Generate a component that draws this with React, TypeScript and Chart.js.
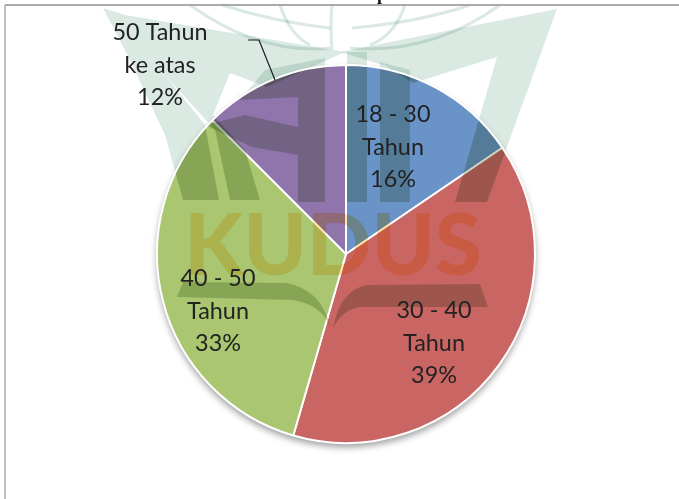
import React, { useEffect, useRef } from "react";
import { Chart, registerables } from "chart.js";

Chart.register(...registerables);

const categories = ["18 - 30 Tahun", "30 - 40 Tahun", "40 - 50 Tahun", "50 Tahun ke atas"];
const shares = [15.5, 39, 33, 12.5];
const percentLabels = ["16%", "39%", "33%", "12%"];
const labelLines = [["18 - 30", "Tahun"], ["30 - 40", "Tahun"], ["40 - 50", "Tahun"], ["50 Tahun", "ke atas"]];
const sliceColors = ["#6a93c8", "#c96663", "#aac670", "#9075ad"];

type Pt = [number, number];
const labelOffsets: Pt[] = [[47, -107], [88, 89], [-128, 57], [-186, -189]];
const LEADER: Pt[] = [[-98, -214], [-87, -214], [-71, -174]];

const wmPolys: Pt[][] = [
  [[103, 8], [125, 15], [165, 75], [205, 125], [219, 200], [183, 200], [165, 135], [130, 60]],
  [[125, 15], [345, 52], [267, 87], [230, 73], [213, 115], [245, 150], [260, 200], [230, 200], [215, 130], [165, 75]],
  [[325, 58], [325, 202], [298, 202], [298, 155], [252, 147], [205, 125], [245, 115], [298, 127], [298, 97], [240, 100], [265, 70]],
  [[347, 52], [367, 52], [367, 202], [347, 202]],
  [[380, 62], [410, 70], [410, 202], [380, 202]],
  [[340, 52], [557, 9], [487, 202], [455, 202], [497, 57], [413, 83], [386, 66]],
];

function drawWatermark(ctx: CanvasRenderingContext2D) {
  for (const poly of wmPolys) {
    ctx.beginPath();
    poly.forEach(([x, y], i) => (i ? ctx.lineTo(x, y) : ctx.moveTo(x, y)));
    ctx.closePath();
    ctx.fill();
  }
  ctx.beginPath();
  ctx.moveTo(177, 297);
  ctx.lineTo(183, 282);
  ctx.lineTo(287, 283);
  ctx.quadraticCurveTo(322, 290, 330, 327);
  ctx.quadraticCurveTo(322, 305, 293, 300);
  ctx.closePath();
  ctx.fill();
  ctx.beginPath();
  ctx.moveTo(333, 328);
  ctx.quadraticCurveTo(340, 290, 367, 285);
  ctx.lineTo(480, 284);
  ctx.lineTo(488, 307);
  ctx.lineTo(360, 307);
  ctx.quadraticCurveTo(342, 310, 333, 328);
  ctx.closePath();
  ctx.fill();
}

function drawGlobe(ctx: CanvasRenderingContext2D) {
  const curves: number[][] = [
    [190, 5, 260, 55, 330, 48],
    [500, 5, 430, 55, 350, 48],
    [280, 5, 290, 35, 310, 45],
    [405, 5, 395, 35, 370, 45],
    [222, 5, 275, 22, 330, 28],
    [470, 5, 420, 22, 352, 28],
    [332, 5, 330, 25, 332, 50],
  ];
  ctx.lineWidth = 3;
  for (const [a, b, c, d, e, f] of curves) {
    ctx.beginPath();
    ctx.moveTo(a, b);
    ctx.quadraticCurveTo(c, d, e, f);
    ctx.stroke();
  }
}

const decorations = {
  id: "decorations",
  beforeDatasetsDraw(chart: any) {
    const { ctx } = chart;
    const arc = chart.getDatasetMeta(0).data[0];
    ctx.save();
    ctx.globalCompositeOperation = "multiply";
    ctx.fillStyle = "#dbe9e3";
    ctx.strokeStyle = "#dbe9e3";
    drawWatermark(ctx);
    drawGlobe(ctx);
    ctx.restore();

    ctx.save();
    ctx.shadowColor = "rgba(0,0,0,0.4)";
    ctx.shadowBlur = 7;
    ctx.shadowOffsetY = 4;
    ctx.fillStyle = "#fff";
    ctx.beginPath();
    ctx.arc(arc.x, arc.y, arc.outerRadius, 0, Math.PI * 2);
    ctx.fill();
    ctx.restore();
  },
  afterDatasetsDraw(chart: any) {
    const { ctx } = chart;
    const arcs = chart.getDatasetMeta(0).data;
    const { x: cx, y: cy, outerRadius: r } = arcs[0];

    ctx.save();
    ctx.beginPath();
    ctx.arc(cx, cy, r - 1, 0, Math.PI * 2);
    ctx.clip();
    ctx.globalCompositeOperation = "multiply";
    ctx.fillStyle = "#c9d6c2";
    drawWatermark(ctx);
    ctx.fillStyle = "#ffe4ae";
    ctx.font = "900 85px Lato";
    ctx.textAlign = "center";
    ctx.textBaseline = "alphabetic";
    ctx.fillText("KUDUS", 333, 275);
    ctx.restore();

    ctx.save();
    ctx.lineWidth = 1.5;
    ctx.strokeStyle = "#8f8f8f";
    ctx.beginPath();
    ctx.moveTo(679, 5);
    ctx.lineTo(5, 5);
    ctx.stroke();
    ctx.strokeStyle = "#aaaaaa";
    ctx.beginPath();
    ctx.moveTo(5, 5);
    ctx.lineTo(5, 499);
    ctx.stroke();
    ctx.fillStyle = "#111";
    ctx.font = "bold 18px 'Liberation Serif'";
    ctx.textAlign = "center";
    ctx.textBaseline = "alphabetic";
    ctx.fillText("p", 382, 0);

    ctx.strokeStyle = "#1a1a1a";
    ctx.lineWidth = 1.2;
    ctx.beginPath();
    LEADER.forEach(([dx, dy], i) => (i ? ctx.lineTo(cx + dx, cy + dy) : ctx.moveTo(cx + dx, cy + dy)));
    ctx.stroke();

    ctx.fillStyle = "#222";
    ctx.font = "23.4px Lato";
    ctx.textAlign = "center";
    ctx.textBaseline = "middle";
    labelLines.forEach((lines, i) => {
      const [dx, dy] = labelOffsets[i];
      const x = cx + dx;
      const y = cy + dy;
      const rows = [...lines, percentLabels[i]];
      rows.forEach((row, j) => ctx.fillText(row, x, y + (j - 1) * 32.3));
    });
    ctx.restore();
  },
};

export default function App() {
  const ref = useRef<HTMLCanvasElement>(null);
  useEffect(() => {
    document.body.style.margin = "0";
    document.body.style.background = "#fff";
    const chart = new Chart(ref.current!, {
      type: "pie",
      data: {
        labels: categories,
        datasets: [{ data: shares, backgroundColor: sliceColors, borderColor: "#ffffff", borderWidth: 2 }],
      },
      options: {
        responsive: false,
        animation: false,
        layout: { padding: { left: 156, right: 143, top: 64, bottom: 55 } },
        plugins: { legend: { display: false }, tooltip: { enabled: false } },
      },
      plugins: [decorations],
    } as any);
    return () => chart.destroy();
  }, []);
  return <canvas ref={ref} width={679} height={499} style={{ display: "block" }} />;
}
